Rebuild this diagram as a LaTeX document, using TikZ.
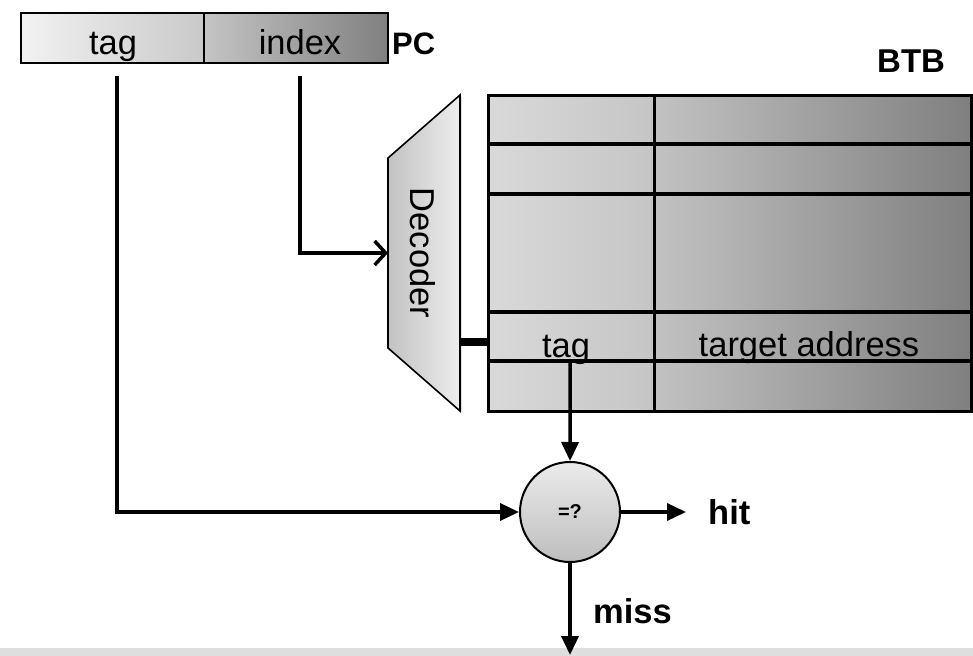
\documentclass[tikz,border=0pt]{standalone}
\usepackage{fontspec}
\setmainfont{Liberation Sans}
\usetikzlibrary{arrows.meta}
\definecolor{pcA}{HTML}{F2F2F2}
\definecolor{pcB}{HTML}{C9C9C9}
\definecolor{pcC}{HTML}{C4C4C4}
\definecolor{pcD}{HTML}{808080}
\definecolor{tbA}{HTML}{D9D9D9}
\definecolor{tbB}{HTML}{C5C5C5}
\definecolor{tbC}{HTML}{C2C2C2}
\definecolor{tbD}{HTML}{7F7F7F}
\definecolor{dcA}{HTML}{C2C2C2}
\definecolor{dcB}{HTML}{EDEDED}
\definecolor{ciA}{HTML}{EBEBEB}
\definecolor{ciB}{HTML}{BEBEBE}
\definecolor{band}{HTML}{DEDEDE}
\begin{document}
\begin{tikzpicture}[x=1bp,y=-1bp,
  lbl/.style={font=\fontsize{34.5bp}{40bp}\selectfont, inner sep=0},
  blbl/.style={font=\fontsize{34.5bp}{40bp}\selectfont\bfseries, inner sep=0},
  wire/.style={line width=3.5bp},
  tri/.style={-{Triangle[length=19bp,width=17bp]}},
  barb/.style={-{Straight Barb[length=11bp,width=24bp]}},
  cell/.style={draw, inner sep=0, anchor=north west},
]
\useasboundingbox (0,0) rectangle (973,656);
\fill[band] (0,648) rectangle (973,656);

% PC register
\node[cell, line width=2bp, minimum width=183bp, minimum height=50bp, left color=pcA, right color=pcB] (pctag) at (20,12) {};
\node[cell, line width=2bp, minimum width=184bp, minimum height=50bp, left color=pcC, right color=pcD] (pcidx) at (203,12) {};
\node[lbl, anchor=base] (tpc) at (113,55) {tag};
\node[lbl, anchor=base] (ipc) at (300,55) {index};
\node[blbl, font=\fontsize{31bp}{36bp}\selectfont\bfseries, anchor=base west] (pc) at (392,55) {PC};

% BTB table
\node[cell, line width=3bp, minimum width=166bp, minimum height=316bp, left color=tbA, right color=tbB] (tcolL) at (487,94) {};
\node[cell, line width=3bp, minimum width=317bp, minimum height=316bp, left color=tbC, right color=tbD] (tcolR) at (653,94) {};
\foreach \yy in {144,194,312,361} {
  \draw[line width=3.5bp] (tcolL.west |- 0,\yy) -- (tcolR.east |- 0,\yy);
}
\node[inner sep=0, minimum width=166bp, minimum height=49bp, anchor=north west] (tagcell) at (487,312) {};
\node[blbl, anchor=base west, font=\fontsize{33bp}{38bp}\selectfont\bfseries] (btb) at (877,73) {BTB};
\node[lbl, anchor=base] (ttag) at (566,357) {tag};
\node[lbl, anchor=base] (ttarget) at (809,356) {target address};

% Decoder
\coordinate (d1) at (388,158);
\coordinate (d2) at (460,95);
\coordinate (d3) at (460,411);
\coordinate (d4) at (388,348);
\fill[black!12] ([shift={(2,2)}]d1) -- ([shift={(2,2)}]d2) -- ([shift={(2,2)}]d3) -- ([shift={(2,2)}]d4) -- cycle;
\draw[line width=1.6bp, line join=miter, left color=dcA, right color=dcB] (d1) -- (d2) -- (d3) -- (d4) -- cycle;
\node[lbl, anchor=base, rotate=-90] (dec) at (410,253) {Decoder};
\coordinate (decin) at (388,253);
\coordinate (decout) at (460,342);

% comparator
\node[circle, draw, line width=2bp, minimum size=100bp, inner sep=0, top color=ciA, bottom color=ciB,
      font=\fontsize{20bp}{24bp}\selectfont\bfseries] (cmp) at (570,512) {=?};
\node[blbl, anchor=west] (hit) at (708,512) {hit};
\node[blbl, anchor=base west] (miss) at (593,623) {miss};
\coordinate (missend) at (570,655);

% wires
\coordinate (tagsrc) at (117,76);
\coordinate (idxsrc) at (300,76);
\draw[wire, tri] (tagsrc) |- (cmp.west);
\draw[wire, barb] (idxsrc) |- (decin);
\draw[line width=8bp] (decout) -- (decout -| tcolL.west);
\draw[wire, tri] (tagcell.south) -- (cmp.north);
\draw[wire, tri, shorten >=22bp] (cmp.east) -- (hit.west);
\draw[wire, tri] (cmp.south) -- (missend);
\end{tikzpicture}
\end{document}
